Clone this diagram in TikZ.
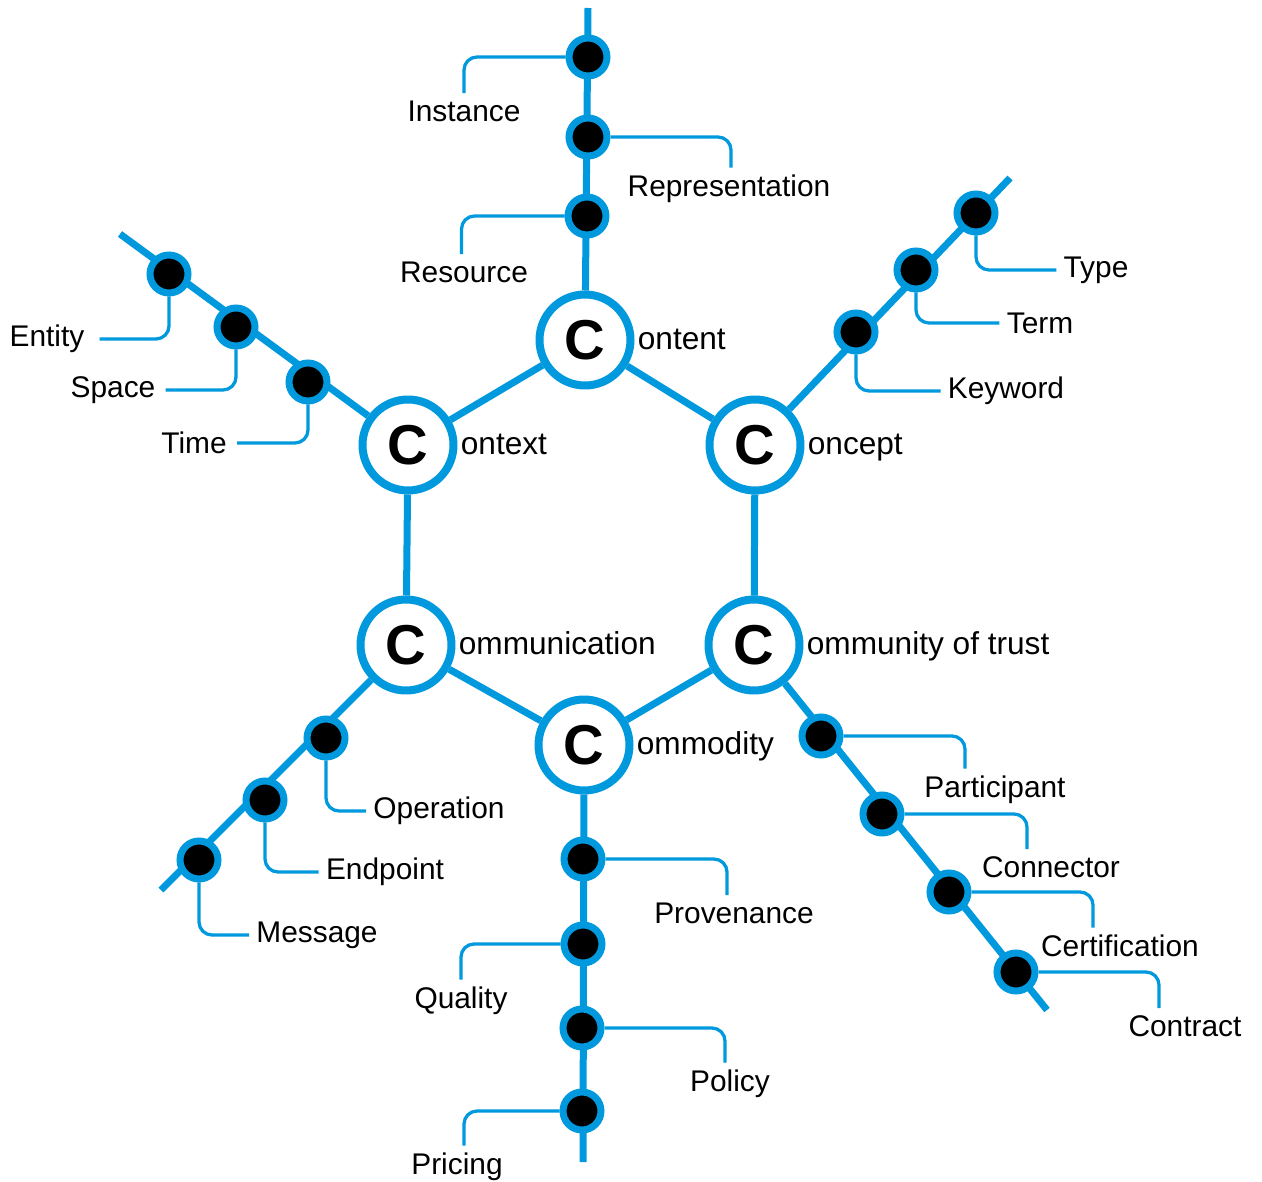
\documentclass[tikz,border=0pt]{standalone}
\usepackage{fontspec}
\setmainfont{Liberation Sans}
\usetikzlibrary{backgrounds}
\definecolor{hexblue}{RGB}{0,153,221}

\tikzset{
  hub/.style={circle, draw=hexblue, line width=0.16cm, fill=white,
    minimum size=1.82cm, inner sep=0pt,
    font=\fontsize{32}{38}\selectfont\bfseries},
  hubword/.style={anchor=base west, inner sep=0pt, xshift=0.06cm,
    font=\fontsize{18}{22}\selectfont},
  knot/.style={circle, draw=hexblue, line width=0.14cm, fill=black,
    minimum size=0.76cm, inner sep=0pt},
  spine/.style={draw=hexblue, line width=0.14cm},
  leader/.style={draw=hexblue, line width=0.065cm, rounded corners=0.26cm},
  lbl/.style={inner sep=4pt, font=\fontsize{17}{20}\selectfont},
}

\begin{document}
\begin{tikzpicture}[x=0.02cm, y=-0.02cm]
  \useasboundingbox (0,0) rectangle (1262,1182);

  % the six C's
  \node[hub] (content) at (585,340) {C};
  \node[hub] (context) at (408,445) {C};
  \node[hub] (concept) at (755,445) {C};
  \node[hub] (communication) at (406,645) {C};
  \node[hub] (community) at (754,645) {C};
  \node[hub] (commodity) at (584,745) {C};

  \node[hubword] (content-w) at ([yshift=-0.2cm]content.east) {ontent};
  \node[hubword] (context-w) at ([yshift=-0.2cm]context.east) {ontext};
  \node[hubword] (concept-w) at ([yshift=-0.2cm]concept.east) {oncept};
  \node[hubword] (communication-w) at ([yshift=-0.2cm]communication.east) {ommunication};
  \node[hubword] (community-w) at ([yshift=-0.2cm]community.east) {ommunity of trust};
  \node[hubword] (commodity-w) at ([yshift=-0.2cm]commodity.east) {ommodity};

  % free ends of the branches
  \coordinate (content-end) at (588,8);
  \coordinate (context-end) at (120,234);
  \coordinate (concept-end) at (1010,178);
  \coordinate (communication-end) at (161,890);
  \coordinate (commodity-end) at (583,1162);
  \coordinate (community-end) at (1047,1010);

  % knots on the branches
  \node[knot] (instance) at (588,57) {};
  \node[knot] (representation) at (588,137) {};
  \node[knot] (resource) at (587,216) {};
  \node[knot] (entity) at (169,274) {};
  \node[knot] (space) at (236,327) {};
  \node[knot] (time) at (308,382) {};
  \node[knot] (type) at (976,213) {};
  \node[knot] (term) at (916,270) {};
  \node[knot] (keyword) at (856,332) {};
  \node[knot] (operation) at (326,738) {};
  \node[knot] (endpoint) at (265,800) {};
  \node[knot] (message) at (199,860) {};
  \node[knot] (provenance) at (583,859) {};
  \node[knot] (quality) at (583,944) {};
  \node[knot] (policy) at (582,1028) {};
  \node[knot] (pricing) at (582,1111) {};
  \node[knot] (participant) at (821,736) {};
  \node[knot] (connector) at (882,814) {};
  \node[knot] (certification) at (949,892) {};
  \node[knot] (contract) at (1016,972) {};

  \begin{scope}[on background layer]
    \draw[spine] (content) -- (context) -- (communication) -- (commodity)
      -- (community) -- (concept) -- (content);
    \draw[spine] (content) -- (content-end);
    \draw[spine] (context) -- (context-end);
    \draw[spine] (concept) -- (concept-end);
    \draw[spine] (communication) -- (communication-end);
    \draw[spine] (commodity) -- (commodity-end);
    \draw[spine] (community) -- (community-end);
  \end{scope}

  % labels
  \node[lbl] (instance-lbl) at (464,111) {Instance};
  \node[lbl] (representation-lbl) at (729,189) {Representation};
  \node[lbl] (resource-lbl) at (464,272) {Resource};
  \node[lbl] (entity-lbl) at (47,339) {Entity};
  \node[lbl] (space-lbl) at (113,390) {Space};
  \node[lbl] (time-lbl) at (194,443) {Time};
  \node[lbl] (type-lbl) at (1096,270) {Type};
  \node[lbl] (term-lbl) at (1040,323) {Term};
  \node[lbl] (keyword-lbl) at (1006,391) {Keyword};
  \node[lbl] (operation-lbl) at (439,811) {Operation};
  \node[lbl] (endpoint-lbl) at (385,872) {Endpoint};
  \node[lbl] (message-lbl) at (317,935) {Message};
  \node[lbl] (provenance-lbl) at (734,913) {Provenance};
  \node[lbl] (quality-lbl) at (461,1001) {Quality};
  \node[lbl] (policy-lbl) at (730,1084) {Policy};
  \node[lbl] (pricing-lbl) at (457,1167) {Pricing};
  \node[lbl] (participant-lbl) at (995,790) {Participant};
  \node[lbl] (connector-lbl) at (1051,867) {Connector};
  \node[lbl] (certification-lbl) at (1120,946) {Certification};
  \node[lbl] (contract-lbl) at (1185,1026) {Contract};

  % leaders
  \draw[leader] (instance) -| (instance-lbl.north);
  \draw[leader] (representation) -| ([xshift=0.04cm]representation-lbl.north);
  \draw[leader] (resource) -| ([xshift=-0.05cm]resource-lbl.north);
  \draw[leader] (entity) |- ([xshift=0.16cm]entity-lbl.east);
  \draw[leader] (space) |- ([xshift=0.06cm]space-lbl.east);
  \draw[leader] (time) |- ([xshift=0.06cm]time-lbl.east);
  \draw[leader] (type) |- (type-lbl.west);
  \draw[leader] (term) |- (term-lbl.west);
  \draw[leader] (keyword) |- (keyword-lbl.west);
  \draw[leader] (operation) |- (operation-lbl.west);
  \draw[leader] (endpoint) |- (endpoint-lbl.west);
  \draw[leader] (message) |- (message-lbl.west);
  \draw[leader] (provenance) -| ([xshift=-0.14cm]provenance-lbl.north);
  \draw[leader] (quality) -| (quality-lbl.north);
  \draw[leader] (policy) -| ([xshift=-0.1cm]policy-lbl.north);
  \draw[leader] (pricing) -| ([xshift=0.14cm]pricing-lbl.north);
  \draw[leader] (participant) -| ([xshift=-0.6cm]participant-lbl.north);
  \draw[leader] (connector) -| ([xshift=-0.48cm]connector-lbl.north);
  \draw[leader] (certification) -| ([xshift=-0.54cm]certification-lbl.north);
  \draw[leader] (contract) -| ([xshift=-0.52cm]contract-lbl.north);
\end{tikzpicture}
\end{document}
